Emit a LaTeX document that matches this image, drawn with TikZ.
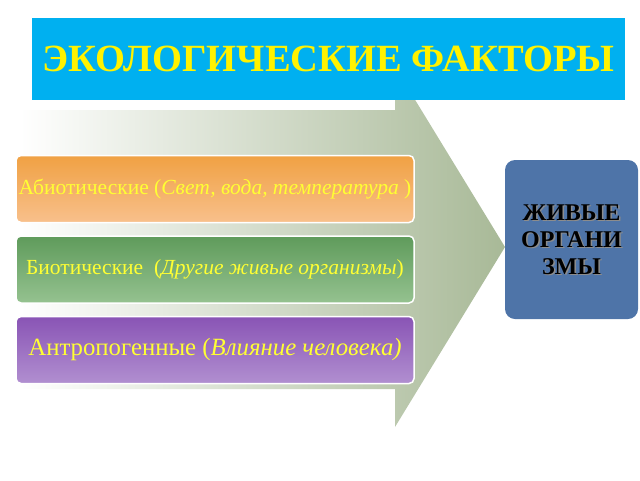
\documentclass[tikz,border=0pt]{standalone}
\usepackage{fontspec}
\setmainfont{Liberation Serif}
\usetikzlibrary{positioning}

\definecolor{titleblue}{HTML}{00B0F0}
\definecolor{sage}{HTML}{A8B997}
\definecolor{orangetop}{HTML}{F0A143}
\definecolor{orangebot}{HTML}{F8C08C}
\definecolor{greentop}{HTML}{5F9B5B}
\definecolor{greenbot}{HTML}{95C290}
\definecolor{violettop}{HTML}{8954B5}
\definecolor{violetbot}{HTML}{B18FD0}
\definecolor{livingblue}{HTML}{4E74A8}
\definecolor{factortext}{HTML}{FFFF33}

\tikzset{
  factor/.style={rounded corners=5pt, draw=white, line width=1.5pt,
    minimum width=398pt, minimum height=67pt, inner sep=0pt,
    text=factortext},
}

\begin{document}
\begin{tikzpicture}[x=1pt, y=-1pt]
\useasboundingbox (0,0) rectangle (640,480);

% Big arrow
\shade[left color=white, right color=sage]
  (20,110) -- (395,110) -- (395,67) -- (505,247) -- (395,427)
  -- (395,389) -- (20,389) -- cycle;

% Title
\node[fill=titleblue, minimum width=593pt, minimum height=82pt, inner sep=0pt,
  text=yellow, font=\bfseries\fontsize{38.5}{44}\selectfont] (title) at (328.5,59)
  {\raisebox{-3pt}{ЭКОЛОГИЧЕСКИЕ ФАКТОРЫ}};

% Factors
\node[factor, top color=orangetop, bottom color=orangebot,
  font=\fontsize{21.5}{24}\selectfont] (abio) at (215,189)
  {Абиотические (\textit{Свет, вода, температура} )};
\node[factor, top color=greentop, bottom color=greenbot,
  font=\fontsize{21.5}{24}\selectfont, below=12pt of abio] (bio)
  {Биотические\ \ (\textit{Другие живые организмы})};
\node[factor, top color=violettop, bottom color=violetbot,
  font=\fontsize{24.8}{28}\selectfont, below=12pt of bio] (anthro)
  {Антропогенные (\textit{Влияние человека)}};

% Living organisms
\node[fill=livingblue, rounded corners=10pt, minimum width=133pt,
  minimum height=159pt] (living) at (571.5,239.5) {};
\node[text=black!45, align=center, font=\bfseries\fontsize{24}{27}\selectfont]
  at ([xshift=1.5pt, yshift=-1.5pt]living.center) {ЖИВЫЕ\\ОРГАНИ\\ЗМЫ};
\node[align=center, font=\bfseries\fontsize{24}{27}\selectfont] (livingtext)
  at (living.center) {ЖИВЫЕ\\ОРГАНИ\\ЗМЫ};
\end{tikzpicture}
\end{document}
